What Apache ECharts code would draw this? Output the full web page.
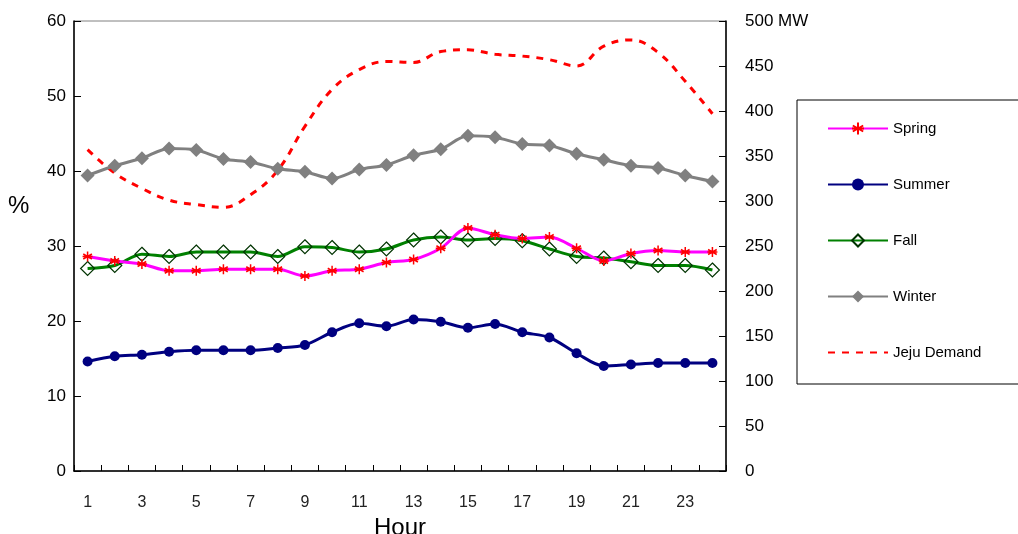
<!DOCTYPE html>
<html><head><meta charset="utf-8">
<script src="https://cdn.jsdelivr.net/npm/echarts@6/dist/echarts.min.js"></script>
<style>html,body{margin:0;padding:0;background:#fff}#c{width:1018px;height:534px}</style>
</head><body><div id="c"></div>
<script>
const hours = ['1','2','3','4','5','6','7','8','9','10','11','12','13','14','15','16','17','18','19','20','21','22','23','24'];
const spring = [28.6,28.0,27.6,26.7,26.7,26.9,26.9,26.9,26.0,26.7,26.9,27.8,28.2,29.7,32.4,31.5,31.0,31.2,29.7,28.0,29.0,29.4,29.2,29.2];
const summer = [14.6,15.3,15.5,15.9,16.1,16.1,16.1,16.4,16.8,18.5,19.7,19.3,20.2,19.9,19.1,19.6,18.5,17.8,15.7,14.0,14.2,14.4,14.4,14.4];
const fall = [27.0,27.4,28.9,28.6,29.2,29.2,29.2,28.6,29.9,29.8,29.2,29.6,30.8,31.2,30.8,31.0,30.7,29.6,28.6,28.4,27.9,27.4,27.4,26.8];
const winter = [39.4,40.7,41.7,43.0,42.8,41.6,41.2,40.3,39.9,39.0,40.2,40.8,42.1,42.9,44.7,44.5,43.6,43.4,42.3,41.5,40.7,40.4,39.4,38.6];
const jeju = [357,331,314,301,296,293,307,334,383,424,446,455,454,466,468,463,461,457,450,472,479,465,433,397];

const FONT = 'Liberation Sans';
const asterisk = 'path://M0,-5L0,5M-4.33,-2.5L4.33,2.5M-4.33,2.5L4.33,-2.5M-5,0L5,0';

const chart = echarts.init(document.getElementById('c'), null, {renderer:'canvas'});
chart.setOption({
  animation:false,
  backgroundColor:'#fff',
  textStyle:{fontFamily:FONT},
  grid:{left:74,right:292,top:21,bottom:63,containLabel:false,outerBoundsMode:'none',
        show:true,borderColor:'#808080',borderWidth:1,backgroundColor:'transparent'},
  graphic:[{type:'text',left:8,top:194,style:{text:'%',fontFamily:FONT,fontSize:24,fill:'#000'}}],
  legend:{
    orient:'vertical', left:797, top:100,
    padding:[21,120,24,30],
    itemWidth:60, itemHeight:15, itemGap:41,
    borderColor:'#000', borderWidth:1,
    textStyle:{fontFamily:FONT,fontSize:15,color:'#000'},
    data:['Spring','Summer','Fall','Winter',{name:'Jeju Demand',itemStyle:{opacity:0}}]
  },
  xAxis:{
    type:'category', data:hours, boundaryGap:true,
    name:'Hour', nameLocation:'middle', nameGap:38,
    nameTextStyle:{fontFamily:FONT,fontSize:24,color:'#000'},
    axisLine:{lineStyle:{color:'#000',width:1.5}},
    axisTick:{show:true,inside:true,length:6,interval:0,alignWithLabel:false,lineStyle:{color:'#000'}},
    axisLabel:{interval:1,margin:24,fontFamily:FONT,fontSize:16,color:'#222'},
    splitLine:{show:false}
  },
  yAxis:[
    {type:'value',min:0,max:60,interval:10,position:'left',
     axisLine:{show:true,lineStyle:{color:'#000',width:1.5}},
     axisTick:{show:true,inside:true,length:7,lineStyle:{color:'#000'}},
     axisLabel:{margin:8,fontFamily:FONT,fontSize:17,color:'#000'},
     splitLine:{show:false}},
    {type:'value',min:0,max:500,interval:50,position:'right',
     axisLine:{show:true,lineStyle:{color:'#000',width:1.5}},
     axisTick:{show:true,inside:true,length:7,lineStyle:{color:'#000'}},
     axisLabel:{margin:19,align:'left',fontFamily:FONT,fontSize:17,color:'#000',
       formatter:v=>v===500?'500 MW':String(v)},
     splitLine:{show:false}}
  ],
  series:[
    {name:'Spring',type:'line',data:spring,smooth:0.3,yAxisIndex:0,
     lineStyle:{color:'#FF00FF',width:3},
     symbol:asterisk,symbolSize:10,
     itemStyle:{color:'#FF0000',borderColor:'#FF0000',borderWidth:1.5},z:4},
    {name:'Summer',type:'line',data:summer,smooth:0.3,yAxisIndex:0,
     lineStyle:{color:'#000080',width:3},
     symbol:'circle',symbolSize:10,
     itemStyle:{color:'#000080',borderColor:'#000080',borderWidth:0},z:3},
    {name:'Fall',type:'line',data:fall,smooth:0.3,yAxisIndex:0,
     lineStyle:{color:'#008000',width:3},
     symbol:'diamond',symbolSize:14,
     itemStyle:{color:'rgba(255,255,255,0)',borderColor:'#003300',borderWidth:1.2},z:3},
    {name:'Winter',type:'line',data:winter,smooth:0.3,yAxisIndex:0,
     lineStyle:{color:'#808080',width:3},
     symbol:'diamond',symbolSize:14,
     itemStyle:{color:'#808080',borderColor:'#808080',borderWidth:0},z:3},
    {name:'Jeju Demand',type:'line',data:jeju,smooth:0.4,yAxisIndex:1,
     lineStyle:{color:'#FF0000',width:3,type:[7,7]},
     symbol:'none',showSymbol:false,
     itemStyle:{color:'#FF0000'},z:2}
  ]
});
</script></body></html>
